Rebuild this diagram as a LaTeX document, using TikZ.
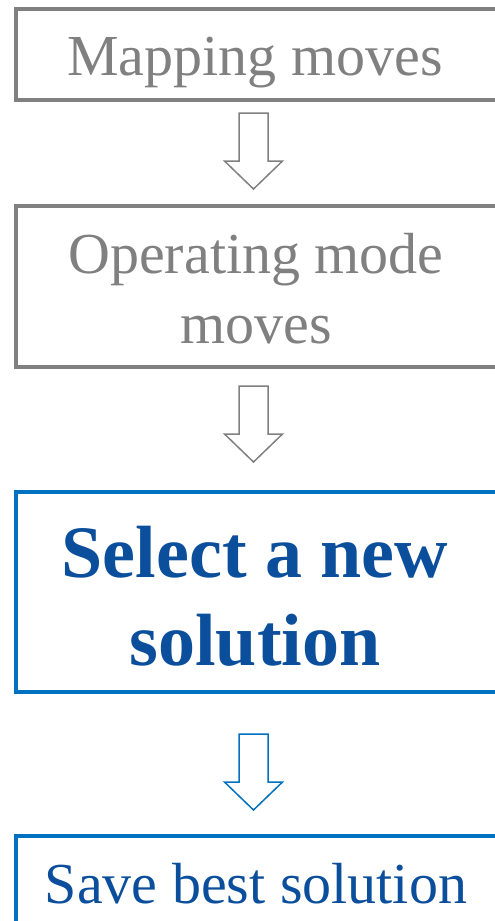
\documentclass[tikz,border=0pt]{standalone}
\usepackage{fontspec}
\setmainfont{Liberation Serif}
\definecolor{boxgray}{HTML}{808080}
\definecolor{boxblue}{HTML}{0070C0}
\definecolor{textblue}{HTML}{0B4F9C}
\tikzset{
  graybox/.style={draw=boxgray, line width=4pt, rectangle, inner sep=0pt, anchor=north west},
  bluebox/.style={draw=boxblue, line width=4pt, rectangle, inner sep=0pt, anchor=north west},
  graytext/.style={text=boxgray, font=\fontsize{58}{70}\selectfont, align=center, inner sep=0pt, anchor=base},
  bluebold/.style={text=textblue, font=\fontsize{74}{88}\selectfont\bfseries, align=center, inner sep=0pt, anchor=base},
  bluetext/.style={text=textblue, font=\fontsize{58}{70}\selectfont, inner sep=0pt, anchor=base},
  blockarrow/.pic={
    \draw[line width=1.5pt, line join=miter, pic actions]
      (-14.5,0) -- (14.5,0) -- (14.5,48) -- (29,48) -- (0,76) -- (-29,48) -- (-14.5,48) -- cycle;
  }
}
\begin{document}
\begin{tikzpicture}[x=1pt, y=-1pt]
\useasboundingbox (0,0) rectangle (495,921);
\clip (0,0) rectangle (495,921);
% boxes
\node[graybox, minimum width=496pt, minimum height=90.5pt] (b1) at (14,7) {};
\node[graybox, minimum width=496pt, minimum height=161pt] (b2) at (14,204) {};
\node[bluebox, minimum width=496pt, minimum height=200pt] (b3) at (14,490) {};
\node[bluebox, minimum width=496pt, minimum height=120pt] (b4) at (14,834) {};
% texts
\node[graytext] (t1) at (255,75) {Mapping moves};
\node[graytext] (t2) at (256,343) {Operating mode\\moves};
\node[bluebold] (t3) at (255,665) {Select a new\\solution};
\node[bluetext] (t4) at (256,903) {Save best solution};
% block arrows
\coordinate (a1) at (253.5,113);
\coordinate (a2) at (253.5,386);
\coordinate (a3) at (253.5,734);
\pic[draw=boxgray] at (a1) {blockarrow};
\pic[draw=boxgray] at (a2) {blockarrow};
\pic[draw=boxblue] at (a3) {blockarrow};
\end{tikzpicture}
\end{document}
